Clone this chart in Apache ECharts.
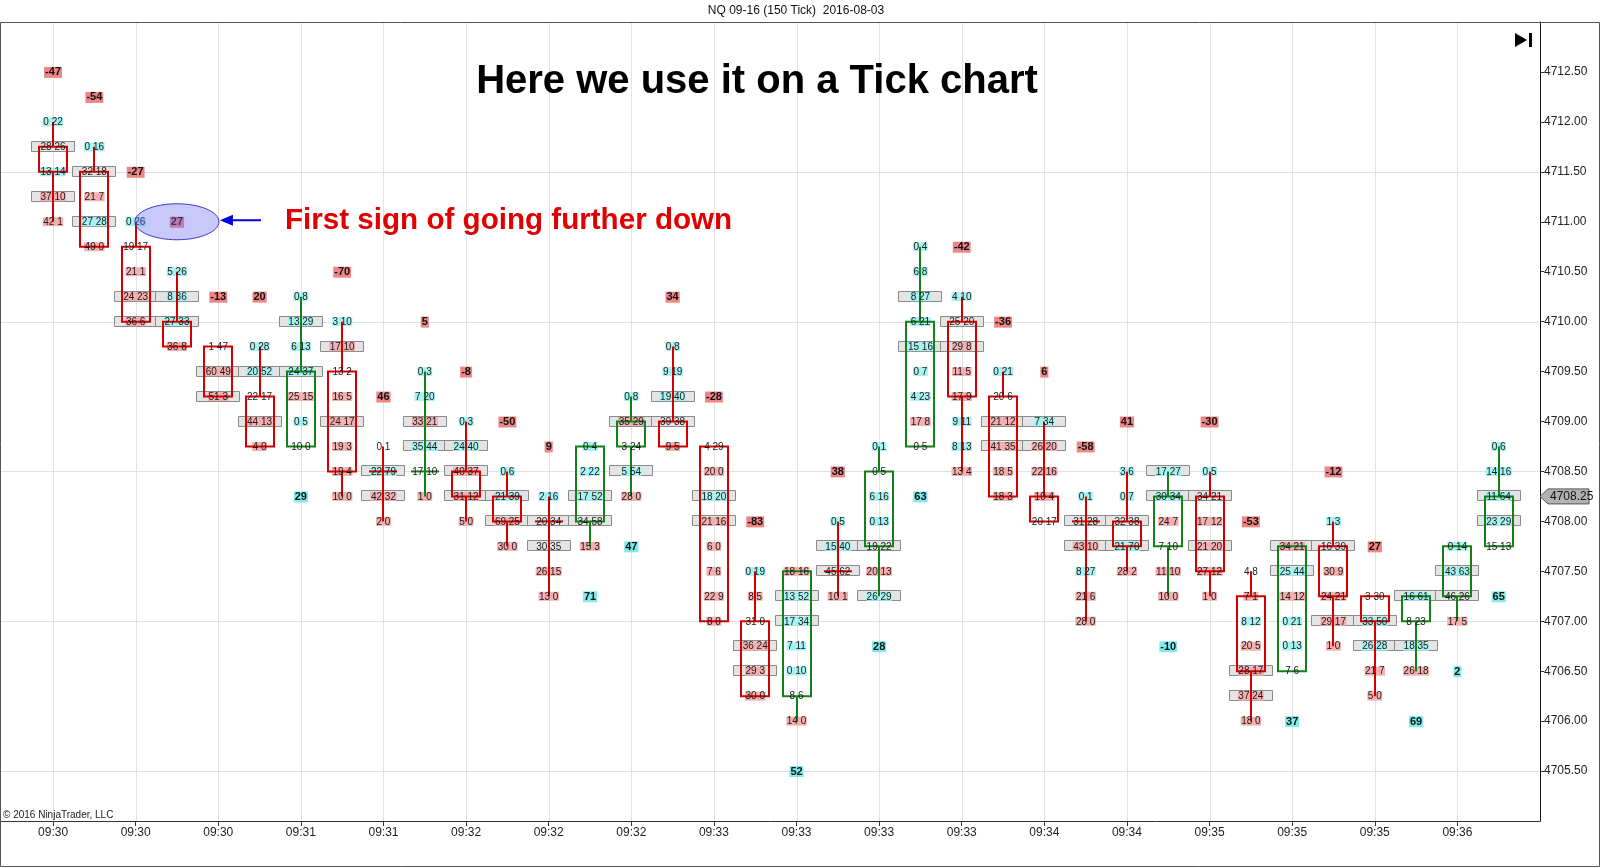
<!DOCTYPE html>
<html><head><meta charset="utf-8">
<script src="https://cdn.jsdelivr.net/npm/echarts@6/dist/echarts.min.js"></script>
<style>html,body{margin:0;padding:0;background:#fff}#c{width:1600px;height:868px}</style>
</head><body><div id="c"></div>
<script>
// ---------------- data ----------------
const timeLabels = ['09:30','09:30','09:30','09:31','09:31','09:32','09:32','09:32','09:33','09:33','09:33','09:33','09:34','09:34','09:35','09:35','09:35','09:36'];
const labelIndex = [0,2,4,6,8,10,12,14,16,18,20,22,24,26,28,30,32,34];
const gridPrices = [4705.5, 4707.0, 4708.5, 4710.0, 4711.5];

const barHigh = [4712.00,4711.75,4711.00,4710.50,4709.75,4709.75,4710.25,4710.00,4708.75,4709.50,4709.00,4708.50,4708.25,4708.75,4709.25,4709.75,4708.75,4707.50,4707.50,4708.00,4708.75,4710.75,4710.25,4709.50,4709.00,4708.25,4708.50,4708.50,4708.50,4707.50,4707.75,4708.00,4707.25,4707.25,4707.75,4708.75];
const barOpen = [4711.75,4711.50,4710.75,4710.00,4709.75,4709.25,4708.75,4709.50,4708.50,4708.50,4708.50,4708.25,4708.00,4708.00,4708.75,4709.00,4708.75,4707.00,4706.25,4707.50,4707.75,4708.75,4710.00,4709.25,4708.25,4708.00,4708.00,4707.75,4708.25,4707.25,4706.50,4707.75,4707.25,4707.00,4707.25,4707.75];
const barClose = [4711.50,4710.75,4710.00,4709.75,4709.25,4708.75,4709.50,4708.50,4708.50,4708.50,4708.25,4708.00,4708.00,4708.75,4709.00,4708.75,4707.00,4706.25,4707.50,4707.50,4708.50,4710.00,4709.25,4708.25,4708.00,4708.00,4707.75,4708.25,4707.50,4706.50,4707.75,4707.25,4707.00,4707.25,4707.75,4708.25];
const barDir = ['d','d','d','d','d','d','u','d','d','u','d','d','d','u','u','d','d','d','u','d','u','u','d','d','d','d','d','u','d','d','u','d','d','u','u','u'];
const barDelta = [-47,-54,-27,27,-13,20,29,-70,46,5,-8,-50,9,71,47,34,-28,-83,52,38,28,63,-42,-36,6,-58,41,-10,-30,-53,37,-12,27,69,2,65];
const deltaSide = ['a','a','a','a','a','a','b','a','a','a','a','a','a','b','b','a','a','a','b','a','b','b','a','a','a','a','a','b','a','a','b','a','a','b','b','b'];
// bid ask flag  (c = ask-heavy cyan, r = bid-heavy pink, w = plain, B = boxed level), listed from high downward
const barCells = [
  ['0 22 c','28 26 Bw','13 14 c','37 10 Br','42 1 r'],
  ['0 16 c','32 18 Bw','21 7 r','27 28 Bc','49 0 r'],
  ['0 26 c','19 17 w','21 1 r','24 23 Br','36 6 Br'],
  ['5 26 c','8 36 Bc','27 33 Bc','36 8 r'],
  ['1 47 w','60 49 Br','51 3 Br'],
  ['0 28 c','20 52 Bc','22 17 w','44 13 Br','4 0 r'],
  ['0 8 c','13 29 Bc','6 13 c','24 37 Bc','25 15 r','0 5 c','10 0 w'],
  ['3 10 c','17 10 Br','13 2 w','16 5 r','24 17 Br','19 3 r','19 4 r','10 0 r'],
  ['0 1 w','22 79 Bc','42 32 Br','2 0 r'],
  ['0 3 c','7 20 c','33 21 Br','35 44 Bc','17 10 w','1 0 r'],
  ['0 3 c','24 40 Bc','40 37 Br','31 12 Br','5 0 r'],
  ['0 6 c','21 39 Bc','69 25 Br','30 0 r'],
  ['2 16 c','20 34 Bw','30 35 Bw','26 15 r','13 0 r'],
  ['0 4 c','2 22 c','17 52 Bc','34 58 Bw','15 3 r'],
  ['0 8 c','35 29 Br','3 24 w','5 54 Bc','28 0 r'],
  ['0 8 c','9 19 c','19 40 Bc','39 38 Bw','9 5 r'],
  ['4 29 w','20 0 r','18 20 Bc','21 16 Br','6 0 r','7 6 r','22 9 r','8 0 r'],
  ['0 19 c','8 5 r','31 0 w','36 24 Br','29 3 Br','30 0 r'],
  ['18 16 r','13 52 Bc','17 34 Bc','7 11 c','0 10 c','8 6 w','14 0 r'],
  ['0 5 c','15 40 Bc','45 62 Bw','10 1 r'],
  ['0 1 c','0 5 w','6 16 c','0 13 c','19 22 Bw','20 13 r','26 29 Bc'],
  ['0 4 c','6 8 c','8 27 Bc','6 21 c','15 16 Bc','0 7 c','4 23 c','17 8 r','0 5 w'],
  ['4 10 c','25 20 Bw','29 8 Br','11 5 r','17 9 r','9 11 c','8 13 c','13 4 r'],
  ['0 21 c','20 6 w','21 12 Br','41 35 Br','18 5 r','18 3 r'],
  ['7 34 Bc','26 20 Br','22 16 r','10 4 r','20 17 w'],
  ['0 1 c','31 28 Bw','43 10 Br','8 27 c','21 6 r','28 0 r'],
  ['3 6 c','0 7 c','32 38 Bw','21 70 Bc','28 2 r'],
  ['17 27 Bc','30 34 Bc','24 7 r','7 10 w','11 10 r','10 0 r'],
  ['0 5 c','34 21 Bw','17 12 r','21 20 Br','27 12 r','1 0 r'],
  ['4 8 w','7 1 r','8 12 c','20 5 r','28 17 Br','37 24 Br','18 0 r'],
  ['34 21 Br','25 44 Bc','14 12 r','0 21 c','0 13 c','7 6 w'],
  ['1 3 c','16 39 Bw','30 9 r','24 21 r','29 17 Br','1 0 r'],
  ['3 30 w','33 50 Bc','26 28 Bc','21 7 r','5 0 r'],
  ['16 61 Bc','8 23 w','18 35 Bc','26 18 r'],
  ['0 14 c','43 63 Bc','46 26 Bw','17 5 r'],
  ['0 6 c','14 16 c','11 64 Bc','23 29 Bc','15 13 w']
];
const TICK = 0.25;

// ---------------- derived ----------------
const FONT = '"Liberation Sans", Arial, sans-serif';
const RED = '#d40000', GREEN = '#13801a';
const CYAN = '#a8f2f2', PINK = '#f4b0b0', DCYAN = '#80ecec', DPINK = '#ef8585';
const mctx = document.createElement('canvas').getContext('2d');
mctx.font = '10px ' + FONT;

const cellVals = [], cellMeta = [];
barCells.forEach((cells, i) => {
  cells.forEach((s, j) => {
    const parts = s.split(' ');
    const flag = parts[2];
    cellVals.push([i, barHigh[i] - TICK * j]);
    cellMeta.push({ text: parts[0] + ' ' + parts[1], boxed: flag.indexOf('B') >= 0, col: flag.replace('B', '') });
  });
});
const barLow = barCells.map((c, i) => barHigh[i] - TICK * (c.length - 1));
const candleVals = barOpen.map((o, i) => [i, o, barClose[i], barLow[i], barHigh[i]]);
const deltaVals = barDelta.map((d, i) => [i, deltaSide[i] === 'a' ? barHigh[i] + 2 * TICK : barLow[i] - 2 * TICK]);

function bgItem(params, api) {
  const pt = api.coord([api.value(0), api.value(1)]);
  const m = cellMeta[params.dataIndex];
  const ch = [];
  if (m.boxed) ch.push({ type: 'rect', shape: { x: Math.round(pt[0]) - 21.5, y: Math.round(pt[1]) - 5.5, width: 43, height: 10 }, style: { fill: '#e4e4e4', stroke: '#8a8a8a', lineWidth: 1 } });
  if (m.col !== 'w') {
    const w = mctx.measureText(m.text).width + 1;
    ch.push({ type: 'rect', shape: { x: pt[0] - w / 2, y: pt[1] - 4.5, width: w, height: 9 }, style: { fill: m.col === 'c' ? CYAN : PINK } });
  }
  return { type: 'group', children: ch };
}
function textItem(params, api) {
  const pt = api.coord([api.value(0), api.value(1)]);
  return { type: 'text', style: { text: cellMeta[params.dataIndex].text, x: pt[0], y: pt[1] + 0.5, align: 'center', verticalAlign: 'middle', font: '10px ' + FONT, fill: '#1a1a1a' } };
}
function candleItem(params, api) {
  const i = api.value(0), o = api.value(1), c = api.value(2), lo = api.value(3), hi = api.value(4);
  const col = barDir[params.dataIndex] === 'u' ? GREEN : RED;
  const x = Math.round(api.coord([i, o])[0]);
  const yTop = api.coord([i, Math.max(o, c)])[1], yBot = api.coord([i, Math.min(o, c)])[1];
  const yHi = api.coord([i, hi])[1], yLo = api.coord([i, lo])[1];
  const st = { stroke: col, lineWidth: 2, fill: null };
  const ch = [];
  if (yHi < yTop) ch.push({ type: 'line', shape: { x1: x, y1: yHi, x2: x, y2: yTop }, style: st });
  if (yLo > yBot) ch.push({ type: 'line', shape: { x1: x, y1: yBot, x2: x, y2: yLo }, style: st });
  if (o === c) ch.push({ type: 'line', shape: { x1: x - 14, y1: yTop, x2: x + 14, y2: yTop }, style: st });
  else ch.push({ type: 'rect', shape: { x: x - 14, y: yTop, width: 28, height: yBot - yTop }, style: st });
  return { type: 'group', children: ch };
}
function deltaItem(params, api) {
  const pt = api.coord([api.value(0), api.value(1)]);
  const d = params.dataIndex;
  return { type: 'text', style: { text: String(barDelta[d]), x: pt[0], y: pt[1] + 0.5, align: 'center', verticalAlign: 'middle', font: 'bold 11px ' + FONT, fill: '#111', backgroundColor: deltaSide[d] === 'a' ? DPINK : DCYAN, padding: [0, 1] } };
}
function vGrid(params, api) {
  const x = Math.round(api.coord([api.value(0), 4709])[0]) + 0.5;
  const cs = params.coordSys;
  return { type: 'line', shape: { x1: x, y1: cs.y, x2: x, y2: cs.y + cs.height }, style: { stroke: '#e2e2e2', lineWidth: 1 } };
}
function hGrid(params, api) {
  const y = Math.round(api.coord([0, api.value(1)])[1]) + 0.5;
  const cs = params.coordSys;
  return { type: 'line', shape: { x1: cs.x, y1: y, x2: cs.x + cs.width, y2: y }, style: { stroke: '#e2e2e2', lineWidth: 1 } };
}

const chart = echarts.init(document.getElementById('c'), null, { renderer: 'canvas' });
chart.setOption({
  animation: false,
  backgroundColor: '#fff',
  grid: { left: 1, right: 60, top: 22, bottom: 47, containLabel: false },
  xAxis: {
    type: 'value', min: -1.26, max: 36.0,
    axisLine: { show: true, onZero: false, lineStyle: { color: '#333', width: 1 } },
    axisTick: { show: true, length: 5, customValues: labelIndex, lineStyle: { color: '#333' } },
    axisLabel: { customValues: labelIndex, margin: 6, color: '#222', fontSize: 12, fontFamily: FONT, formatter: v => timeLabels[Math.round(v / 2)] },
    splitLine: { show: false }
  },
  yAxis: {
    type: 'value', position: 'right', min: 4705, max: 4713, interval: 0.5, scale: true,
    axisLine: { show: true, onZero: false, lineStyle: { color: '#111', width: 1 } },
    axisTick: { show: true, length: 4, lineStyle: { color: '#333' } },
    axisLabel: { margin: 4, color: '#222', fontSize: 12, fontFamily: FONT, showMinLabel: false, showMaxLabel: false, formatter: v => v.toFixed(2) },
    splitLine: { show: false }
  },
  series: [
    { type: 'custom', name: 'vgrid', renderItem: vGrid, data: labelIndex.map(v => [v, 4709]), z: 1, silent: true },
    { type: 'custom', name: 'hgrid', renderItem: hGrid, data: gridPrices.map(v => [0, v]), z: 1, silent: true },
    { type: 'custom', name: 'cellBg', renderItem: bgItem, data: cellVals, z: 2, silent: true },
    { type: 'custom', name: 'candles', renderItem: candleItem, data: candleVals, z: 3, silent: true },
    { type: 'custom', name: 'cellText', renderItem: textItem, data: cellVals, z: 4, silent: true },
    { type: 'custom', name: 'delta', renderItem: deltaItem, data: deltaVals, z: 4, silent: true }
  ]
});

// annotations placed from data coordinates
const ann = chart.convertToPixel({ gridIndex: 0 }, [3, barHigh[3] + 2 * TICK]);
const lastIdx = barClose.length - 1;
const lp = chart.convertToPixel({ gridIndex: 0 }, [lastIdx, barClose[lastIdx]]);
const axisX = chart.convertToPixel({ gridIndex: 0 }, [36.0, 4709])[0];
const ex = ann[0], ey = ann[1];
chart.setOption({
  graphic: [
    { type: 'rect', z: 50, silent: true, shape: { x: 0.5, y: 22.5, width: 1599, height: 844 }, style: { fill: null, stroke: '#555', lineWidth: 1 } },
    { type: 'text', z: 50, style: { text: 'NQ 09-16 (150 Tick)  2016-08-03', x: 796, y: 11, align: 'center', verticalAlign: 'middle', font: '12px ' + FONT, fill: '#111' } },
    { type: 'text', z: 50, style: { text: 'Here we use it on a Tick chart', x: 757, y: 82, align: 'center', verticalAlign: 'middle', font: 'bold 40px ' + FONT, fill: '#000' } },
    { type: 'text', z: 50, style: { text: 'First sign of going further down', x: 285, y: 221, align: 'left', verticalAlign: 'middle', font: 'bold 29.6px ' + FONT, fill: '#e00000' } },
    { type: 'ellipse', z: 60, shape: { cx: ex, cy: ey, rx: 42, ry: 18 }, style: { fill: 'rgba(110,110,245,0.38)', stroke: '#3c3cc8', lineWidth: 1 } },
    { type: 'line', z: 60, shape: { x1: ex + 56, y1: ey - 1.5, x2: ex + 84, y2: ey - 1.5 }, style: { stroke: '#0000e0', lineWidth: 2 } },
    { type: 'polygon', z: 60, shape: { points: [[ex + 43, ey - 1.5], [ex + 56, ey - 7], [ex + 56, ey + 4]] }, style: { fill: '#0000e0' } },
    { type: 'polygon', z: 60, shape: { points: [[1515, 33], [1515, 47], [1527, 40]] }, style: { fill: '#000' } },
    { type: 'rect', z: 60, shape: { x: 1529, y: 33, width: 3, height: 14 }, style: { fill: '#000' } },
    { type: 'text', z: 50, style: { text: '\u00a9 2016 NinjaTrader, LLC', x: 3, y: 815, align: 'left', verticalAlign: 'middle', font: '10px ' + FONT, fill: '#222' } },
    { type: 'polygon', z: 70, shape: { points: [[axisX, lp[1]], [axisX + 8, lp[1] - 7.5], [axisX + 49, lp[1] - 7.5], [axisX + 49, lp[1] + 7.5], [axisX + 8, lp[1] + 7.5]] }, style: { fill: '#b2b2b2', stroke: '#555', lineWidth: 1 } },
    { type: 'text', z: 71, style: { text: barClose[lastIdx].toFixed(2), x: axisX + 10, y: lp[1] + 0.5, align: 'left', verticalAlign: 'middle', font: '12px ' + FONT, fill: '#111' } }
  ]
});
</script>
</body></html>
